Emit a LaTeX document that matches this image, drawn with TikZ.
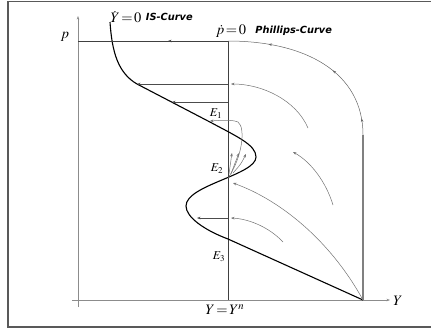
\documentclass[tikz,border=0pt]{standalone}
\usepackage{mathptmx}
\usepackage{fontspec}
\setmainfont{Liberation Serif}
\setsansfont{DejaVu Sans}
\usetikzlibrary{positioning,arrows.meta,decorations.markings}
\tikzset{
  tip/.style={-{Stealth[length=3.5pt,width=2.6pt]}},
  frame/.style={draw=black!65, line width=1.2pt},
  axis/.style={draw=black!45, line width=0.7pt},
  pline/.style={draw=black!75, line width=0.8pt},
  isline/.style={draw=black, line width=1.1pt},
  harrow/.style={draw=black!70, line width=0.6pt, tip},
  traj/.style={draw=black!55, line width=0.5pt, tip},
  lbl/.style={font=\fontsize{14.5}{15}\selectfont, inner sep=1pt},
  elbl/.style={font=\fontsize{12}{12}\selectfont, inner sep=0pt},
  cname/.style={font=\sffamily\bfseries\itshape\fontsize{9.8}{10}\selectfont, inner sep=1pt},
  onpath/.style={postaction={decorate}, decoration={markings,
      mark=at position #1 with {\arrow{Stealth[length=3.5pt,width=2.6pt]}}}},
}

\begin{document}
\begin{tikzpicture}[x=1pt,y=-1pt]
  \useasboundingbox (0,0) rectangle (431,330);
  % outer frame
  \draw[frame] (8,1.5) rectangle (445,327);
  % key points
  \coordinate (ybot) at (78,307);
  \coordinate (ytop) at (78,16);
  \coordinate (xl) at (72,300);
  \coordinate (xr) at (390,300);
  \coordinate (pax) at (78,41);
  \coordinate (ptop) at (228,41);
  \coordinate (Yn) at (228,300);
  \coordinate (C) at (363,300);
  \coordinate (Cup) at (363,135);
  \coordinate (E1) at (210,121);
  \coordinate (E2) at (228,178);
  \coordinate (E3) at (228,239);
  % axes
  \draw[axis, tip] (ybot) -- (ytop);
  \draw[axis, tip] (xl) -- (xr);
  \node[lbl] (plab) at (65,37) {$p$};
  \node[lbl] (Ylab) at (398,301) {$Y$};
  % pdot = 0 line
  \draw[pline] (ptop) -- (Yn);
  \node[lbl] (Ynlab) at (225,310) {$Y\!=\!Y^n$};
  \node[lbl] (pdot) at (231,31) {$\dot p\!=\!0$};
  \node[cname, right=7pt of pdot] (pc) {Phillips-Curve};
  % IS curve
  \node[lbl] (Ydot) at (126,17) {$\dot Y\!=\!0$};
  \node[cname, right=2pt of Ydot] (is) {IS-Curve};
  \draw[isline] (110,22) .. controls (112,52) and (118,73) .. (137,84)
    -- (208,121) .. controls (238,137) and (256,145) .. (256,157)
    .. controls (256,175) and (186,185) .. (186,206)
    .. controls (186,217) and (204,230) .. (E3) -- (C);
  \node[elbl] (e1) at (216,114) {$E_1$};
  \node[elbl] (e2) at (217,169) {$E_2$};
  \node[elbl] (e3) at (219,257) {$E_3$};
  % saddle path along the top
  \draw[draw=black!50, line width=1.1pt] (C) -- (Cup);
  \draw[draw=black!60, line width=0.5pt,
        postaction={decorate}, decoration={markings,
          mark=at position 0.09 with {\arrow{Stealth[length=3.5pt,width=2.6pt]}},
          mark=at position 0.40 with {\arrow{Stealth[length=3.5pt,width=2.6pt]}},
          mark=at position 0.78 with {\arrow{Stealth[length=3.5pt,width=2.6pt]}}}]
    (Cup) .. controls (363,72) and (305,41) .. (ptop);
  \draw[pline, onpath=0.4] (ptop) -- (pax);
  % horizontal jumps
  \coordinate (h1) at (228,84);  \coordinate (h1e) at (137,84);
  \coordinate (h2) at (228,102); \coordinate (h2e) at (172,102);
  \coordinate (h3) at (228,218); \coordinate (h3e) at (197,218);
  \draw[harrow] (h1) -- (h1e);
  \draw[harrow] (h2) -- (h2e);
  \draw[harrow] (h3) -- (h3e);
  % trajectories
  \coordinate (t1) at (308,128); \coordinate (t1e) at (231,84);
  \coordinate (t2) at (333,205); \coordinate (t2e) at (293,152);
  \coordinate (t3e) at (233,183);
  \coordinate (t4) at (283,242); \coordinate (t4e) at (231,218);
  \draw[traj] (t1) .. controls (296,100) and (262,84) .. (t1e);
  \draw[traj] (t2) .. controls (326,182) and (311,162) .. (t2e);
  \draw[traj] (C) .. controls (330,240) and (280,200) .. (t3e);
  \draw[traj] (t4) .. controls (270,228) and (250,219) .. (t4e);
  \draw[traj] (E2) .. controls (242,158) and (246,128) .. (238,122)
    .. controls (234,120) and (225,120) .. (E1);
  % small arrows near E2
  \coordinate (s1) at (232,153);
  \coordinate (s2) at (239,153);
  \coordinate (s3) at (246,154);
  \draw[traj] (229,174) .. controls (230,165) .. (s1);
  \draw[traj] (231,174) .. controls (235,163) .. (s2);
  \draw[traj] (233,173) .. controls (241,164) .. (s3);
\end{tikzpicture}
\end{document}
